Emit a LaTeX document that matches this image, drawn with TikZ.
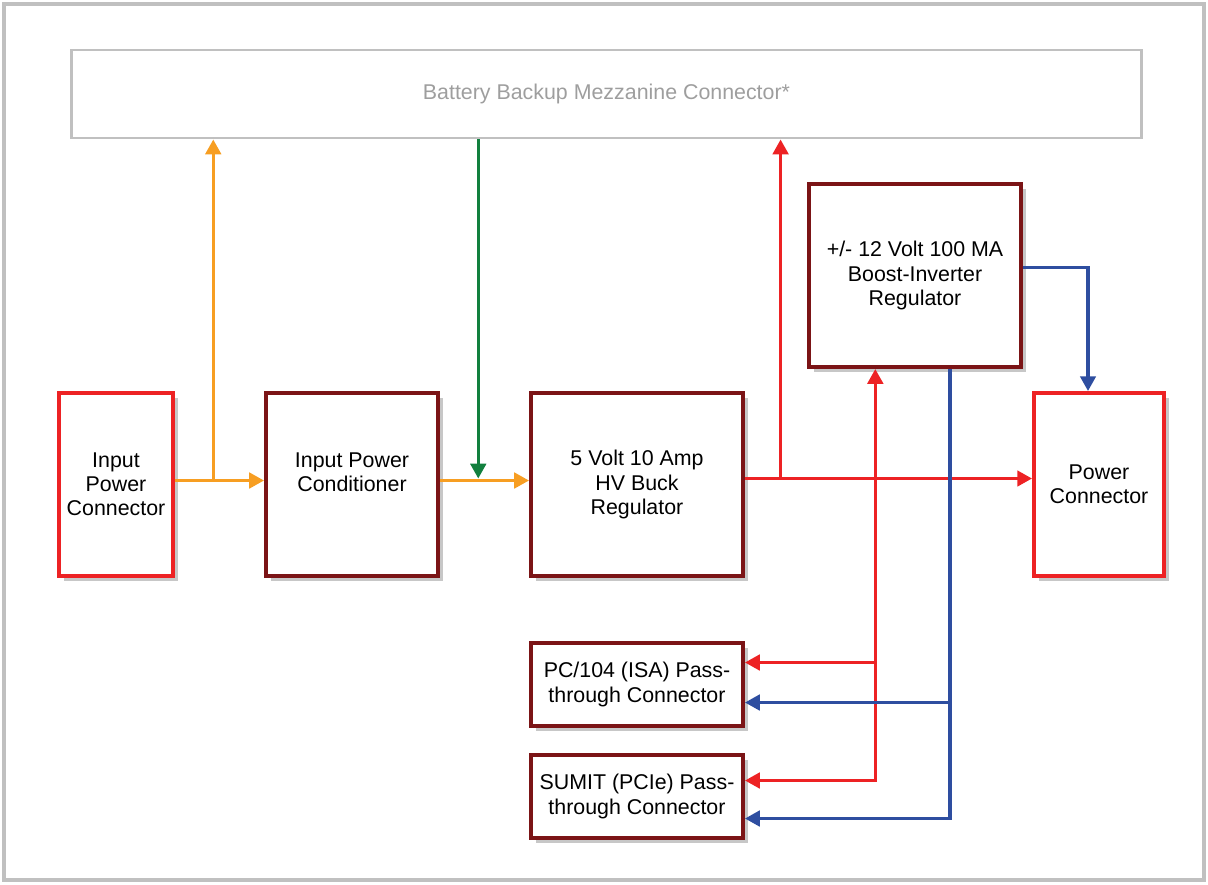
\documentclass[tikz,border=0pt]{standalone}
\usepackage{fontspec}
\setmainfont{Liberation Sans}
\usetikzlibrary{arrows.meta,shadows}
\definecolor{boxred}{RGB}{237,34,36}
\definecolor{boxdark}{RGB}{123,20,22}
\definecolor{lineorange}{RGB}{247,158,34}
\definecolor{linegreen}{RGB}{18,128,62}
\definecolor{lineblue}{RGB}{46,78,160}
\definecolor{framegray}{RGB}{192,192,192}
\begin{document}
\begin{tikzpicture}[x=0.025cm,y=-0.025cm,
				every node/.style={font=\fontsize{15.2}{17.2}\selectfont,align=center},
				block/.style={draw,fill=white,line width=2.8pt,minimum height=4.575cm,
					drop shadow={shadow xshift=0.13cm,shadow yshift=-0.13cm,fill=black!22,opacity=1}},
				redblock/.style={block,draw=boxred},
				darkblock/.style={block,draw=boxdark},
				wire/.style={line width=2.3pt,-{Triangle[length=10.5pt,width=11pt]}},
				orangewire/.style={wire,draw=lineorange,color=lineorange},
				greenwire/.style={wire,draw=linegreen,color=linegreen},
				redwire/.style={wire,draw=boxred,color=boxred},
				bluewire/.style={wire,draw=lineblue,color=lineblue}]
\useasboundingbox (0,0) rectangle (1208,884);
\draw[framegray,line width=2.8pt] (4,4) rectangle (1204,880);
% boxes
\node[draw=framegray,line width=2.1pt,minimum width=26.725cm,minimum height=2.2cm,text=black!38] (batt) at (606.5,94) {Battery Backup Mezzanine Connector*};
\node[redblock,minimum width=2.85cm] (ipc) at (116,484.5) {Input\\Power\\Connector};
\node[darkblock,minimum width=4.3cm] (cond) at (352,484.5) {Input Power\\Conditioner\\\mbox{}};
\node[darkblock,minimum width=5.3cm] (buck) at (637,484.5) {5 Volt 10 Amp\\HV Buck\\Regulator};
\node[darkblock,minimum width=5.3cm] (boost) at (915,275.5) {+/- 12 Volt 100 MA\\Boost-Inverter\\Regulator};
\node[redblock,minimum width=3.25cm] (pwr) at (1099,484.5) {Power\\Connector};
\node[darkblock,minimum width=5.3cm,minimum height=2.075cm] (isa) at (637,684.5) {PC/104 (ISA) Pass-\\through Connector};
\node[darkblock,minimum width=5.3cm,minimum height=2.075cm] (sumit) at (637,796.5) {SUMIT (PCIe) Pass-\\through Connector};
% input side
\draw[orangewire] ([yshift=0.1cm]ipc.east) -- coordinate[pos=0.43] (j1) ([yshift=0.1cm]cond.west);
\draw[orangewire] (j1) -- (j1 |- batt.south);
\draw[orangewire] ([yshift=0.1cm]cond.east) -- coordinate[pos=0.43] (j2) ([yshift=0.1cm]buck.west);
\draw[greenwire] (j2 |- batt.south) -- ([yshift=0.05cm]j2);
% 5 volt rail
\draw[redwire] ([yshift=0.15cm]buck.east) -- coordinate[pos=0.124] (j3) coordinate[pos=0.454] (j4) ([yshift=0.15cm]pwr.west);
\draw[redwire] (j3) -- (j3 |- batt.south);
\draw[redwire] (j4) -- (j4 |- boost.south);
\draw[redwire] (j4) |- ([yshift=0.4cm]sumit.east);
\draw[redwire] ([yshift=0.55cm]isa.east -| j4) -- ([yshift=0.55cm]isa.east);
% 12 volt rails
\coordinate (b1) at ([xshift=0.875cm]boost.south);
\draw[bluewire] ([yshift=0.2cm]boost.east) -| ([xshift=-0.275cm]pwr.north);
\draw[bluewire] (b1) |- ([yshift=-0.55cm]sumit.east);
\draw[bluewire] ([yshift=-0.45cm]isa.east -| b1) -- ([yshift=-0.45cm]isa.east);
\end{tikzpicture}
\end{document}
